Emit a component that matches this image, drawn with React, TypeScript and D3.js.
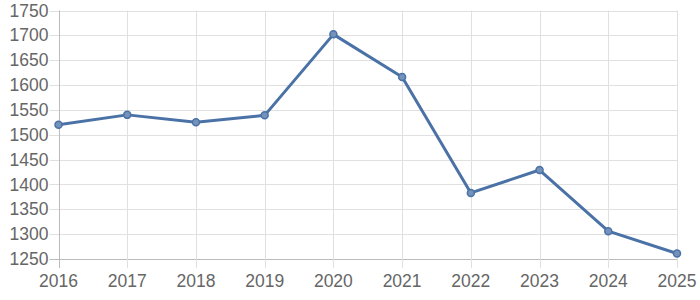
import React from "react";
import * as d3 from "d3";

const years = [2016, 2017, 2018, 2019, 2020, 2021, 2022, 2023, 2024, 2025];
const values = [1520, 1540, 1525, 1539, 1702, 1616, 1383, 1429, 1306, 1261];
const yTicks = [1250, 1300, 1350, 1400, 1450, 1500, 1550, 1600, 1650, 1700, 1750];

export default function App() {
  const W = 700, H = 300;
  const left = 58.5, right = 677, top = 10.5, bottom = 259;
  const x = d3.scaleLinear().domain([2016, 2025]).range([left, right]);
  const y = d3.scaleLinear().domain([1250, 1750]).range([bottom, top]);
  const line = d3.line<number>().x((_, i) => x(years[i])).y((d) => y(d));
  const color = "#4a72a6";
  return (
    <svg width={W} height={H} style={{ position: "absolute", left: 0, top: 0 }}
      fontFamily="'Liberation Sans', Arial, sans-serif">
      {yTicks.map((t) => (
        <g key={t}>
          <line x1={left - 9} x2={right} y1={Math.round(y(t)) + 0.5} y2={Math.round(y(t)) + 0.5}
            stroke={t === 1250 ? "#bbb" : "#e0e0e0"} strokeWidth={1} />
          <text x={48.5} y={y(t)} dy="0.35em" textAnchor="end" fontSize={17.5} fill="#666">{t}</text>
        </g>
      ))}
      {years.map((yr) => (
        <g key={yr}>
          <line x1={Math.round(x(yr)) + 0.5} x2={Math.round(x(yr)) + 0.5} y1={top} y2={bottom + 9}
            stroke={yr === 2016 ? "#bbb" : "#e0e0e0"} strokeWidth={1} />
          <text x={x(yr)} y={287} textAnchor="middle" fontSize={17.5} fill="#666">{yr}</text>
        </g>
      ))}
      <path d={line(values) || ""} fill="none" stroke={color} strokeWidth={3} strokeLinejoin="round" />
      {values.map((v, i) => (
        <circle key={i} cx={x(years[i])} cy={y(v)} r={3.5} fill="#7592bb" stroke={color} strokeWidth={1.5} />
      ))}
    </svg>
  );
}
